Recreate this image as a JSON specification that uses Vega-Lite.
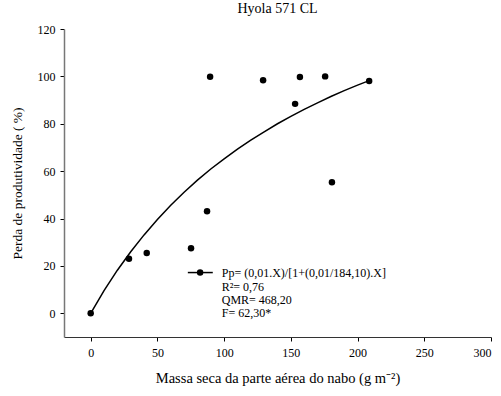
{
  "$schema": "https://vega.github.io/schema/vega-lite/v6.json",
  "width": 427,
  "height": 308,
  "autosize": {"type": "none"},
  "padding": {"left": 64, "top": 29, "right": 10, "bottom": 59},
  "background": "white",
  "config": {
    "view": {"stroke": null},
    "font": "Times New Roman, Liberation Serif, serif",
    "axis": {"grid": false, "labelFont": "Times New Roman, Liberation Serif, serif", "titleFont": "Times New Roman, Liberation Serif, serif", "labelFontSize": 12, "titleFontSize": 13.5, "titleFontWeight": "normal", "labelColor": "black", "titleColor": "black", "tickColor": "black", "domainColor": "#333", "tickSize": 4}
  },
  "title": {"text": "Hyola 571 CL", "font": "Times New Roman, Liberation Serif, serif", "fontSize": 14, "fontWeight": "normal", "color": "black", "offset": 7},
  "datasets": {
    "obs": [
      {"x": 0, "y": 0}, {"x": 28.7, "y": 23}, {"x": 42, "y": 25.5}, {"x": 75.2, "y": 27.5},
      {"x": 87.2, "y": 43.1}, {"x": 89.5, "y": 99.8}, {"x": 129.2, "y": 98.4}, {"x": 153.2, "y": 88.4},
      {"x": 156.8, "y": 99.7}, {"x": 175.7, "y": 100}, {"x": 180.8, "y": 55.3}, {"x": 208.7, "y": 98.1}
    ],
    "curve": [
      {"x": 0, "y": 0}, {"x": 10, "y": 9.6}, {"x": 20, "y": 18.2}, {"x": 30, "y": 26}, {"x": 40, "y": 33.1},
      {"x": 50, "y": 39.6}, {"x": 60, "y": 45.6}, {"x": 70, "y": 51.1}, {"x": 80, "y": 56.2}, {"x": 90, "y": 60.9},
      {"x": 100, "y": 65.2}, {"x": 110, "y": 69.3}, {"x": 120, "y": 73.1}, {"x": 130, "y": 76.6}, {"x": 140, "y": 80},
      {"x": 150, "y": 83.1}, {"x": 160, "y": 86.1}, {"x": 170, "y": 88.8}, {"x": 180, "y": 91.5}, {"x": 190, "y": 94},
      {"x": 200, "y": 96.3}, {"x": 208.7, "y": 98.2}
    ],
    "legline": [{"x": 72.8, "x2": 91.5, "y": 17.2}],
    "legdot": [{"x": 82, "y": 17.2}],
    "legtext": [
      {"x": 98.2, "y": 17.2, "t": "Pp= (0,01.X)/[1+(0,01/184,10).X]"},
      {"x": 98.2, "y": 11.2, "t": "R²= 0,76"},
      {"x": 98.2, "y": 5.6, "t": "QMR= 468,20"},
      {"x": 98.2, "y": 0, "t": "F= 62,30*"}
    ]
  },
  "layer": [
    {
      "data": {"name": "curve"},
      "mark": {"type": "line", "color": "black", "strokeWidth": 1.5},
      "encoding": {
        "x": {"field": "x", "type": "quantitative", "scale": {"domain": [-20, 300], "nice": false, "zero": false},
              "axis": {"values": [0, 50, 100, 150, 200, 250, 300], "title": "Massa seca da parte aérea do nabo (g m⁻²)", "titleFontSize": 14.5, "titlePadding": 13, "labelPadding": 6}},
        "y": {"field": "y", "type": "quantitative", "scale": {"domain": [-10, 120], "nice": false, "zero": false},
              "axis": {"values": [0, 20, 40, 60, 80, 100, 120], "title": "Perda de produtividade ( %)", "titlePadding": 13, "labelPadding": 5, "domainColor": "#777", "domainWidth": 1.5}}
      }
    },
    {
      "data": {"name": "obs"},
      "mark": {"type": "point", "filled": true, "color": "black", "opacity": 1, "size": 42},
      "encoding": {
        "x": {"field": "x", "type": "quantitative"},
        "y": {"field": "y", "type": "quantitative"}
      }
    },
    {
      "data": {"name": "legline"},
      "mark": {"type": "rule", "color": "black", "strokeWidth": 1.5},
      "encoding": {
        "x": {"field": "x", "type": "quantitative"},
        "x2": {"field": "x2"},
        "y": {"field": "y", "type": "quantitative"}
      }
    },
    {
      "data": {"name": "legdot"},
      "mark": {"type": "point", "filled": true, "color": "black", "opacity": 1, "size": 42},
      "encoding": {
        "x": {"field": "x", "type": "quantitative"},
        "y": {"field": "y", "type": "quantitative"}
      }
    },
    {
      "data": {"name": "legtext"},
      "mark": {"type": "text", "align": "left", "baseline": "middle", "font": "Times New Roman, Liberation Serif, serif", "fontSize": 12, "color": "black"},
      "encoding": {
        "x": {"field": "x", "type": "quantitative"},
        "y": {"field": "y", "type": "quantitative"},
        "text": {"field": "t"}
      }
    }
  ]
}
